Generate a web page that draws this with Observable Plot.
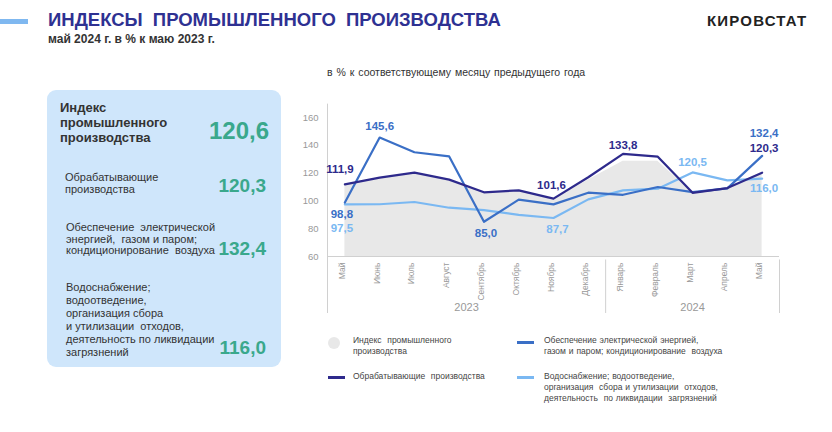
<!DOCTYPE html>
<html><head><meta charset="utf-8">
<script src="https://cdn.jsdelivr.net/npm/d3@7"></script>
<script src="https://cdn.jsdelivr.net/npm/@observablehq/plot@0.6"></script>
<style>
body{margin:0;background:#fff;font-family:"Liberation Sans",Arial,sans-serif;}
#page{position:relative;width:832px;height:432px;overflow:hidden;}
.abs{position:absolute;white-space:nowrap;}
#bar{left:0;top:19px;width:28px;height:5px;background:#7fb8f0;}
#title{left:48px;top:9px;font-size:18.5px;font-weight:bold;color:#2e3192;letter-spacing:0;word-spacing:5px;}
#sub{left:48px;top:32px;font-size:12px;font-weight:bold;color:#333;}
#brand{left:707px;top:12px;font-size:15px;font-weight:bold;color:#222;letter-spacing:1.2px;}
#panel{left:47px;top:90px;width:234px;height:277px;background:#cfe6fb;border-radius:9px;}
.pl{color:#333;font-size:11px;line-height:12px;}
.pv{color:#3aa88c;font-weight:bold;text-align:right;}
#chsub{left:327px;top:66px;font-size:10.5px;color:#333;word-spacing:1px;}
#chart{left:300px;top:95px;}
.lg{font-size:8.5px;color:#444;line-height:11px;word-spacing:0.5px;}
</style></head>
<body><div id="page">
<div id="bar" class="abs"></div>
<div id="title" class="abs"></div>
<div id="sub" class="abs"></div>
<div id="brand" class="abs"></div>
<div id="panel" class="abs"></div>
<div id="chsub" class="abs"></div>
<div id="chart" class="abs"></div>
</div>
<script>
// ---- data ----
const title = "ИНДЕКСЫ ПРОМЫШЛЕННОГО  ПРОИЗВОДСТВА";
const subtitle = "май 2024 г. в % к  маю 2023 г.";
const brand = "КИРОВСТАТ";
const chartSubtitle = "в % к соответствующему  месяцу предыдущего года";
const months = ["Май","Июнь","Июль","Август","Сентябрь","Октябрь","Ноябрь","Декабрь","Январь","Февраль","Март","Апрель","Май"];
const years = ["2023","2024"];
const industry      = [111.5,116.0,119.5,115.0,106.0,107.0,101.0,115.0,128.5,128.5,106.0,109.0,120.6];
const manufacturing = [111.9,116.7,120.3,115.3,106.2,107.6,101.6,117.0,133.8,131.8,105.8,109.2,120.3];
const energy        = [98.8,145.6,135.0,132.0,85.0,100.9,97.5,105.9,104.4,110.0,106.3,109.0,132.4];
const water         = [97.5,97.6,99.2,95.1,93.4,90.0,87.7,101.1,107.6,108.8,120.5,114.8,116.0];
const yTicks = [60,80,100,120,140,160];
const seriesNames = ["Индекс  промышленного\nпроизводства","Обрабатывающие  производства","Обеспечение электрической энергией,\nгазом и паром; кондиционирование  воздуха","Водоснабжение; водоотведение,\nорганизация  сбора и утилизации  отходов,\nдеятельность  по ликвидации  загрязнений"];
const panelLabels = ["Индекс\nпромышленного\nпроизводства","Обрабатывающие\nпроизводства","Обеспечение  электрической\nэнергией,  газом и паром;\nкондиционирование  воздуха","Водоснабжение;\nводоотведение,\nорганизация сбора\nи утилизации  отходов,\nдеятельность по ликвидации\nзагрязнений"];
const panelValues = [120.6,120.3,132.4,116.0];

// ---- styles ----
const C = {ind:"#e8e8e8", man:"#2e2a8c", en:"#3a6fc6", wat:"#7ab8f2"};
const fmt = v => v.toFixed(1).replace(".", ",");

document.getElementById("title").textContent = title;
document.getElementById("sub").textContent = subtitle;
document.getElementById("brand").textContent = brand;
document.getElementById("chsub").textContent = chartSubtitle;

// panel
const page = document.getElementById("page");
const panelLayout = [
  {lx:60, ly:100, lfs:13, lh:15, bold:true, vr:563, vy:133, vfs:24},
  {lx:65, ly:171, lfs:11, lh:12, bold:false, vr:566, vy:187, vfs:19},
  {lx:66, ly:222, lfs:11, lh:11.7, bold:false, vr:566, vy:250, vfs:19},
  {lx:66, ly:281, lfs:11, lh:13, bold:false, vr:566, vy:349, vfs:19}
];
panelLabels.forEach((t,i)=>{
  const L = panelLayout[i];
  const d = document.createElement("div");
  d.className="abs pl";
  d.style.cssText += `left:${L.lx}px;top:${L.ly}px;font-size:${L.lfs}px;line-height:${L.lh}px;${L.bold?"font-weight:bold;":""}white-space:pre;`;
  d.textContent = t;
  page.appendChild(d);
  const v = document.createElement("div");
  v.className="abs pv";
  v.style.cssText += `right:${L.vr}px;top:${L.vy - L.vfs*0.58}px;font-size:${L.vfs}px;line-height:${L.vfs}px;`;
  v.textContent = fmt(panelValues[i]);
  page.appendChild(v);
});

// legend
const legendLayout = [
  {x:328, y:337, tx:353, ty:335, kind:"dot", c:C.ind},
  {x:328, y:377, tx:353, ty:371, kind:"line", c:C.man},
  {x:517, y:342, tx:544, ty:335, kind:"line", c:C.en},
  {x:517, y:377, tx:544, ty:371, kind:"line", c:C.wat}
];
seriesNames.forEach((t,i)=>{
  const L = legendLayout[i];
  const s = document.createElement("div");
  s.className="abs";
  if (L.kind==="dot") s.style.cssText += `left:${L.x}px;top:${L.y}px;width:12px;height:12px;border-radius:6px;background:${L.c};`;
  else s.style.cssText += `left:${L.x}px;top:${L.y-1}px;width:17px;height:2.5px;background:${L.c};`;
  page.appendChild(s);
  const d = document.createElement("div");
  d.className="abs lg";
  d.style.cssText += `left:${L.tx}px;top:${L.ty}px;white-space:pre;`;
  d.textContent = t;
  page.appendChild(d);
});

// chart
const idx = months.map((_,i)=>i);
const rows = (arr)=>arr.map((v,i)=>({i, v}));
const labels = [
  {s:energy, i:1, c:C.en, dx:0, dy:-11},
  {s:manufacturing, i:0, c:C.man, dx:-5, dy:-15},
  {s:energy, i:0, c:C.en, dx:-3, dy:12},
  {s:water, i:0, c:C.wat, dx:-3, dy:24},
  {s:energy, i:4, c:C.en, dx:2, dy:12},
  {s:water, i:6, c:C.wat, dx:4, dy:11},
  {s:manufacturing, i:6, c:C.man, dx:-2, dy:-13},
  {s:manufacturing, i:8, c:C.man, dx:0, dy:-9},
  {s:water, i:10, c:C.wat, dx:0, dy:-10},
  {s:energy, i:12, c:C.en, dx:2, dy:-23},
  {s:manufacturing, i:12, c:C.man, dx:2, dy:-24},
  {s:water, i:12, c:C.wat, dx:2, dy:10}
];
const yearPos = [3.5, 10];
const sepX = [7.5, 12.5];

const chart = Plot.plot({
  width: 500, height: 230,
  marginLeft: 27, marginRight: 21, marginTop: 22, marginBottom: 69,
  x: {type:"linear", domain:[-0.5, 12.5], axis:null},
  y: {domain:[60,160], axis:null},
  style: {fontFamily:"'Liberation Sans', Arial, sans-serif", background:"transparent", overflow:"visible"},
  marks: [
    Plot.areaY(rows(industry), {x:"i", y1:()=>60, y2:"v", fill:C.ind}),
    Plot.ruleX([-0.5], {y1:19, y2:169.6, stroke:"#d0d0d0", strokeWidth:1, clip:false}),
    Plot.ruleX(sepX, {y1:19, y2:57.5, stroke:"#d0d0d0", strokeWidth:1}),
    Plot.ruleY([60], {x1:-0.5, x2:12.5, stroke:"#d0d0d0", strokeWidth:1}),
    Plot.text(yTicks, {x:-0.5, y:d=>d, text:d=>String(d), textAnchor:"end", dx:-9, fontSize:9.5, fill:"#999"}),
    Plot.text(idx, {x:d=>d, frameAnchor:"bottom", text:d=>months[d], rotate:-90, textAnchor:"end", dy:6, fontSize:8.5, fill:"#999"}),
    Plot.text(years, {x:(d,i)=>yearPos[i], frameAnchor:"bottom", text:d=>d, dy:54, fontSize:11, fill:"#999"}),
    Plot.line(rows(water), {x:"i", y:"v", stroke:C.wat, strokeWidth:2.2}),
    Plot.line(rows(energy), {x:"i", y:"v", stroke:C.en, strokeWidth:2.2}),
    Plot.line(rows(manufacturing), {x:"i", y:"v", stroke:C.man, strokeWidth:2.2}),
    ...labels.map(l => Plot.text([l], {x:d=>d.i, y:d=>d.s[d.i], text:d=>fmt(d.s[d.i]), dx:l.dx, dy:l.dy, fill:l.c, fontSize:11.5, fontWeight:"bold"}))
  ]
});
document.getElementById("chart").appendChild(chart);
</script>
</body></html>
